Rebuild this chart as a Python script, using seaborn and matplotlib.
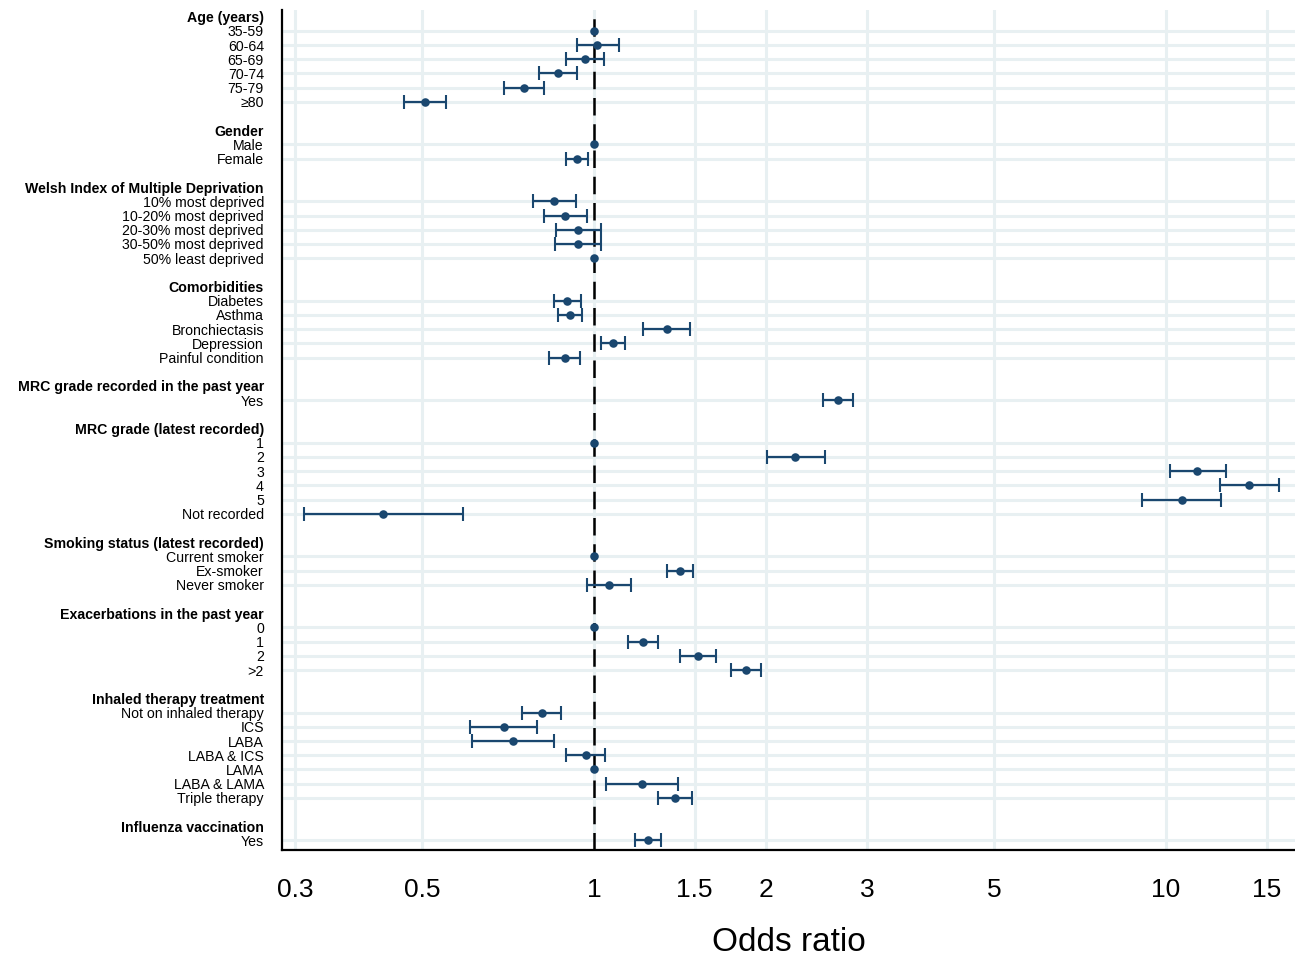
import numpy as np
import pandas as pd
import seaborn as sns
import matplotlib.pyplot as plt

sns.set_style("white")
plt.rcParams['font.family'] = ['Liberation Sans', 'DejaVu Sans']
plt.rcParams['text.color'] = 'black'
plt.rcParams['axes.labelcolor'] = 'black'
plt.rcParams['xtick.color'] = 'black'
plt.rcParams['ytick.color'] = 'black'

# Group headers and the row labels under each header
headers = ["Age (years)", "Gender", "Welsh Index of Multiple Deprivation", "Comorbidities",
           "MRC grade recorded in the past year", "MRC grade (latest recorded)",
           "Smoking status (latest recorded)", "Exacerbations in the past year",
           "Inhaled therapy treatment", "Influenza vaccination"]
row_labels = [
    ["35-59", "60-64", "65-69", "70-74", "75-79", "≥80"],
    ["Male", "Female"],
    ["10% most deprived", "10-20% most deprived", "20-30% most deprived",
     "30-50% most deprived", "50% least deprived"],
    ["Diabetes", "Asthma", "Bronchiectasis", "Depression", "Painful condition"],
    ["Yes"],
    ["1", "2", "3", "4", "5", "Not recorded"],
    ["Current smoker", "Ex-smoker", "Never smoker"],
    ["0", "1", "2", ">2"],
    ["Not on inhaled therapy", "ICS", "LABA", "LABA & ICS", "LAMA", "LABA & LAMA", "Triple therapy"],
    ["Yes"],
]

# Odds ratios and 95% CI (NaN = reference category)
odds_ratio = [1.0, 1.012, 0.964, 0.865, 0.754, 0.506,
              1.0, 0.934,
              0.851, 0.890, 0.938, 0.938, 1.0,
              0.897, 0.908, 1.342, 1.079, 0.890,
              2.671,
              1.0, 2.246, 11.35, 13.99, 10.65, 0.428,
              1.0, 1.414, 1.062,
              1.0, 1.218, 1.520, 1.844,
              0.811, 0.696, 0.722, 0.968, 1.0, 1.213, 1.385,
              1.243]
ci_low = [np.nan, 0.934, 0.893, 0.801, 0.696, 0.466,
          np.nan, 0.893,
          0.782, 0.818, 0.858, 0.855, np.nan,
          0.850, 0.865, 1.218, 1.028, 0.834,
          2.513,
          np.nan, 2.006, 10.15, 12.41, 9.08, 0.311,
          np.nan, 1.341, 0.972,
          np.nan, 1.147, 1.414, 1.736,
          0.748, 0.607, 0.612, 0.893, np.nan, 1.050, 1.294,
          1.179]
ci_high = [np.nan, 1.106, 1.041, 0.934, 0.818, 0.551,
           np.nan, 0.976,
           0.930, 0.972, 1.028, 1.028, np.nan,
           0.947, 0.952, 1.472, 1.133, 0.945,
           2.837,
           np.nan, 2.534, 12.75, 15.76, 12.46, 0.590,
           np.nan, 1.490, 1.161,
           np.nan, 1.294, 1.634, 1.959,
           0.876, 0.795, 0.851, 1.045, np.nan, 1.403, 1.484,
           1.310]

xticks = [0.3, 0.5, 1, 1.5, 2, 3, 5, 10, 15]
xtick_labels = ["0.3", "0.5", "1", "1.5", "2", "3", "5", "10", "15"]

# build row layout: header, items, blank line between groups
tick_pos, tick_text, is_header, data_pos = [], [], [], []
pos = 0
for h, labs in zip(headers, row_labels):
    tick_pos.append(pos); tick_text.append(h); is_header.append(True)
    pos += 1
    for lab in labs:
        tick_pos.append(pos); tick_text.append(lab); is_header.append(False)
        data_pos.append(pos)
        pos += 1
    pos += 1

df = pd.DataFrame({"row": data_pos, "OR": odds_ratio, "lo": ci_low, "hi": ci_high})

navy = "#1a476f"
grid_c = "#e8f0f2"

fig = plt.figure(figsize=(12.95, 9.57), dpi=100)
ax = fig.add_axes([0.2178, 0.112, 0.7822, 0.878])
ax.set_xscale("log")

for x in xticks:
    ax.axvline(x, color=grid_c, lw=2.2, zorder=0)
for r in data_pos:
    ax.axhline(r, color=grid_c, lw=2.2, zorder=0)

ax.axvline(1, color="black", lw=1.8, ls=(0, (7, 3.5)), zorder=1)

ci = df.dropna()
ax.errorbar(ci["OR"], ci["row"],
            xerr=[ci["OR"] - ci["lo"], ci["hi"] - ci["OR"]],
            fmt="none", ecolor=navy, elinewidth=1.6, capsize=5, capthick=1.5, zorder=2)
sns.scatterplot(data=df, x="OR", y="row", color=navy, s=38, edgecolor=navy,
                linewidth=0, zorder=3, ax=ax, legend=False)

ax.set_xlim(0.2848, 16.81)
ax.set_ylim(58.66, -0.5)
ax.set_xticks(xticks)
ax.set_xticklabels(xtick_labels, fontsize=19)
ax.minorticks_off()
ax.set_yticks(tick_pos)
ax.set_yticklabels(tick_text, fontsize=10.2)
for t, lab, hdr in zip(ax.yaxis.get_major_ticks(), ax.get_yticklabels(), is_header):
    if hdr:
        t.tick1line.set_visible(False)
        lab.set_fontweight("bold")
ax.tick_params(axis="y", length=9, width=1.6, pad=4, color="black")
ax.tick_params(axis="x", length=12, width=1.3, pad=8, color="black")

ax.set_xlabel("Odds ratio", fontsize=24, labelpad=18)
ax.set_ylabel("")
for s in ["top", "right"]:
    ax.spines[s].set_visible(False)
ax.spines["left"].set_linewidth(1.6)
ax.spines["left"].set_color("black")
ax.spines["bottom"].set_linewidth(1.6)
ax.spines["bottom"].set_color("black")

fig.savefig("out.png", dpi=100)
